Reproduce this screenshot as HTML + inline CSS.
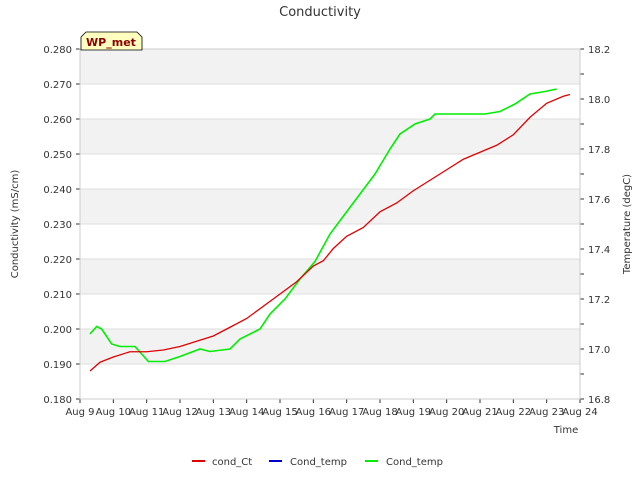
<!DOCTYPE html>
<html><head><meta charset="utf-8"><style>
body{margin:0;background:#fff;font-family:"DejaVu Sans","Liberation Sans",sans-serif;}
svg text{font-family:"DejaVu Sans","Liberation Sans",sans-serif;}
</style></head><body>
<svg id="c" width="640" height="480" xmlns="http://www.w3.org/2000/svg">
<text x="320" y="16" text-anchor="middle" font-size="13" fill="#333">Conductivity</text>
<g id="bands"></g><g id="axes"></g><g id="series"></g>
<g>
<path d="M81,50 L81,37 L86,32 L137,32 L142,37 L142,50 Z" fill="#ffffc0" stroke="#000" stroke-width="0.8"/>
<text x="111" y="46" text-anchor="middle" font-size="11" font-weight="bold" fill="#8b0000">WP_met</text></g>
<text x="566" y="433" text-anchor="middle" font-size="10" fill="#333">Time</text>
<text transform="translate(18,224) rotate(-90)" text-anchor="middle" font-size="10" fill="#333">Conductivity (mS/cm)</text>
<text transform="translate(630,224) rotate(-90)" text-anchor="middle" font-size="10" fill="#333">Temperature (degC)</text>
<g font-size="10" fill="#333">
<g><line x1="192" y1="461" x2="205" y2="461" stroke="#e00000" stroke-width="2"/><text x="212" y="465">cond_Ct</text></g>
<g><line x1="269" y1="461" x2="282" y2="461" stroke="#0000cc" stroke-width="2"/><text x="290" y="465">Cond_temp</text></g>
<g><line x1="365" y1="461" x2="378" y2="461" stroke="#00ee00" stroke-width="2"/><text x="386" y="465">Cond_temp</text></g>
</g>
</svg>
<script>
const xTickLabels=["Aug 9","Aug 10","Aug 11","Aug 12","Aug 13","Aug 14","Aug 15","Aug 16","Aug 17","Aug 18","Aug 19","Aug 20","Aug 21","Aug 22","Aug 23","Aug 24"];
const leftTicks=[0.180,0.190,0.200,0.210,0.220,0.230,0.240,0.250,0.260,0.270,0.280];
const rightTicks=[16.8,17.0,17.2,17.4,17.6,17.8,18.0,18.2];
const condDays=[0.3,0.6,1,1.5,2,2.5,3,3.5,4,4.5,5,5.5,6,6.5,7,7.3,7.6,8,8.5,9,9.5,10,10.5,11,11.5,12,12.5,13,13.5,14,14.5,14.7];
const condVals=[0.188,0.1905,0.192,0.1935,0.1935,0.194,0.195,0.1965,0.198,0.2005,0.203,0.2065,0.21,0.2135,0.218,0.2195,0.223,0.2265,0.229,0.2335,0.236,0.2395,0.2425,0.2455,0.2485,0.2505,0.2525,0.2555,0.2605,0.2645,0.2665,0.267];
const tempDays=[0.3,0.5,0.65,0.95,1.2,1.65,2.05,2.55,3.0,3.6,3.9,4.5,4.8,5.4,5.7,6.15,6.6,7.05,7.5,7.95,8.4,8.85,9.3,9.6,10.05,10.5,10.65,11.1,11.7,12.15,12.6,13.05,13.5,13.95,14.3];
const tempVals=[17.06,17.09,17.08,17.02,17.01,17.01,16.95,16.95,16.97,17.0,16.99,17.0,17.04,17.08,17.14,17.2,17.28,17.35,17.46,17.54,17.62,17.7,17.8,17.86,17.9,17.92,17.94,17.94,17.94,17.94,17.95,17.98,18.02,18.03,18.04];
const X0=80,X1=580,Y0=399,Y1=49,NS="http://www.w3.org/2000/svg";
const xs=d=>X0+(X1-X0)*d/15;
const yl=v=>Y0-(Y0-Y1)*(v-0.18)/0.1;
const yr=v=>Y0-(Y0-Y1)*(v-16.8)/1.4;
function mk(t,a,p){const e=document.createElementNS(NS,t);for(const k in a)e.setAttribute(k,a[k]);p.appendChild(e);return e;}
const bands=document.getElementById('bands'),axes=document.getElementById('axes'),ser=document.getElementById('series');
for(let i=0;i<leftTicks.length-1;i++){if(i%2==1){const r=mk('rect',{x:X0,y:yl(leftTicks[i+1]),width:X1-X0,height:yl(leftTicks[i])-yl(leftTicks[i+1]),fill:'#f2f2f2'},bands);

}}
leftTicks.forEach(v=>{mk('line',{x1:X0,x2:X1,y1:yl(v),y2:yl(v),stroke:'#ddd','stroke-width':1},bands);
mk('line',{x1:X0-4,x2:X0,y1:yl(v),y2:yl(v),stroke:'#333'},axes);
const t=mk('text',{x:X0-8,y:yl(v)+4,'text-anchor':'end','font-size':10,fill:'#333'},axes);t.textContent=v.toFixed(3);

});
rightTicks.forEach((v,i)=>{mk('line',{x1:X1,x2:X1+4,y1:yr(v),y2:yr(v),stroke:'#333'},axes);
if(i<rightTicks.length-1)mk('line',{x1:X1,x2:X1+4,y1:yr(v+0.1),y2:yr(v+0.1),stroke:'#333'},axes);
const t=mk('text',{x:X1+8,y:yr(v)+4,'font-size':10,fill:'#333'},axes);t.textContent=v.toFixed(1);

});
xTickLabels.forEach((s,i)=>{mk('line',{x1:xs(i),x2:xs(i),y1:Y0,y2:Y0+4,stroke:'#333'},axes);
const t=mk('text',{x:xs(i),y:Y0+16,'text-anchor':'middle','font-size':10,fill:'#333'},axes);t.textContent=s;

});
mk('rect',{x:X0,y:Y1,width:X1-X0,height:Y0-Y1,fill:'none',stroke:'#ccc'},axes);
const pg=mk('polyline',{points:tempDays.map((d,i)=>xs(d)+','+yr(tempVals[i])).join(' '),fill:'none',stroke:'#00ee00','stroke-width':1.6},ser);


const pr=mk('polyline',{points:condDays.map((d,i)=>xs(d)+','+yl(condVals[i])).join(' '),fill:'none',stroke:'#e00000','stroke-width':1.3},ser);


</script>
</body></html>
